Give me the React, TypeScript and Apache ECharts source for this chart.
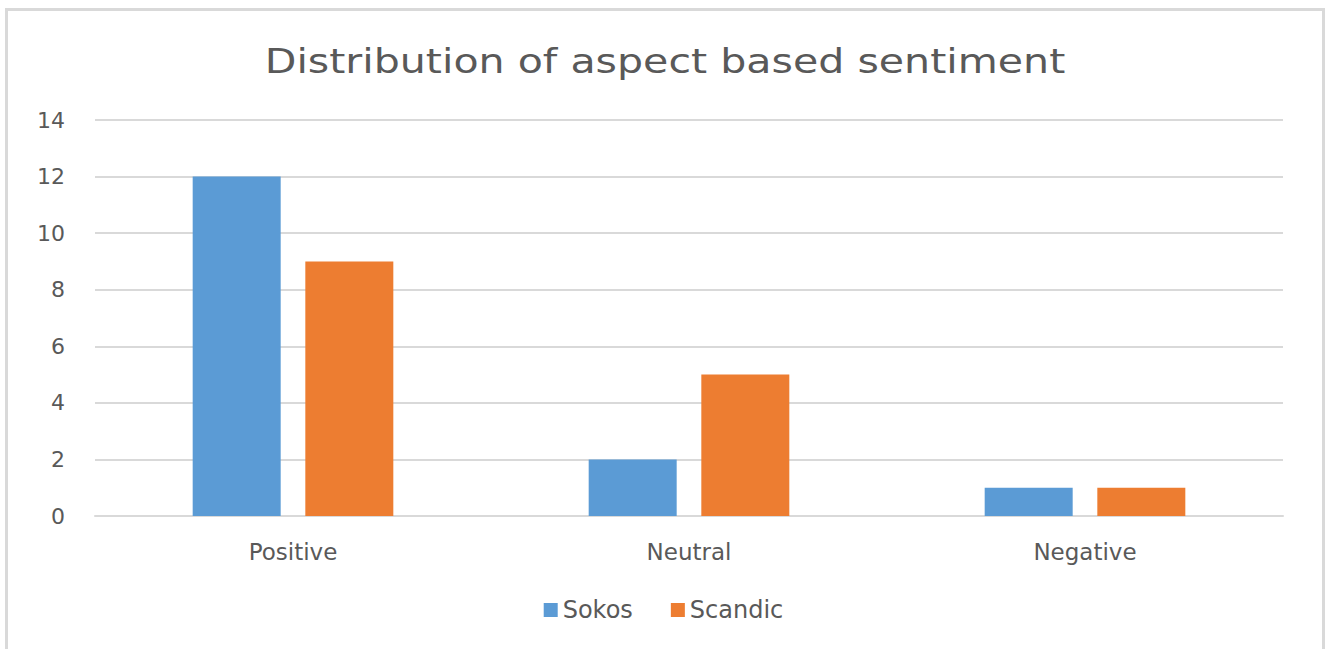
import React, { useEffect, useRef } from "react";
import * as echarts from "echarts";

const categories = ["Positive", "Neutral", "Negative"];
const sokos = [12, 2, 1];
const scandic = [9, 5, 1];
const seriesNames = ["Sokos", "Scandic"];
const titleText = "Distribution of aspect based sentiment";

export default function App() {
  const ref = useRef<HTMLDivElement>(null);
  useEffect(() => {
    if (!ref.current) return;
    const chart = echarts.init(ref.current, null, { renderer: "svg" });
    const font = "'DejaVu Sans', 'Open Sans', sans-serif";
    chart.setOption({
      animation: false,
      backgroundColor: "#ffffff",
      textStyle: { fontFamily: font },
      graphic: [
        {
          type: "rect",
          shape: { x: 6.5, y: 9.5, width: 1317, height: 700 },
          style: { fill: "none", stroke: "#d9d9d9", lineWidth: 3 },
          silent: true,
        },
        {
          type: "text",
          x: 665,
          y: 61,
          scaleX: 1.21,
          style: {
            text: titleText,
            fontSize: 34,
            fontFamily: font,
            fill: "#595959",
            align: "center",
            verticalAlign: "middle",
          },
          silent: true,
        },
      ],
      legend: {
        data: seriesNames,
        bottom: 22,
        left: "center",
        itemWidth: 14,
        itemHeight: 14,
        itemGap: 38,
        icon: "rect",
        textStyle: { fontSize: 24, color: "#595959", fontFamily: font },
      },
      grid: { left: 95, right: 44, top: 120, bottom: 133, containLabel: false },
      xAxis: {
        type: "category",
        data: categories,
        axisLine: { show: true, lineStyle: { color: "#d9d9d9", width: 2 } },
        axisTick: { show: false },
        axisLabel: { fontSize: 23, color: "#595959", margin: 24, fontFamily: font },
      },
      yAxis: {
        type: "value",
        min: 0,
        max: 14,
        interval: 2,
        axisLine: { show: false },
        axisTick: { show: false },
        splitLine: { lineStyle: { color: "#d9d9d9", width: 2 } },
        axisLabel: { fontSize: 22, color: "#595959", margin: 30, fontFamily: font },
      },
      series: [
        {
          name: seriesNames[0],
          type: "bar",
          data: sokos,
          barWidth: 88,
          barGap: "28%",
          itemStyle: { color: "#5b9bd5" },
        },
        {
          name: seriesNames[1],
          type: "bar",
          data: scandic,
          barWidth: 88,
          barGap: "28%",
          itemStyle: { color: "#ed7d31" },
        },
      ],
    });
    return () => chart.dispose();
  }, []);
  return (
    <div
      ref={ref}
      style={{ position: "fixed", left: 0, top: 0, width: 1327, height: 649 }}
    />
  );
}
